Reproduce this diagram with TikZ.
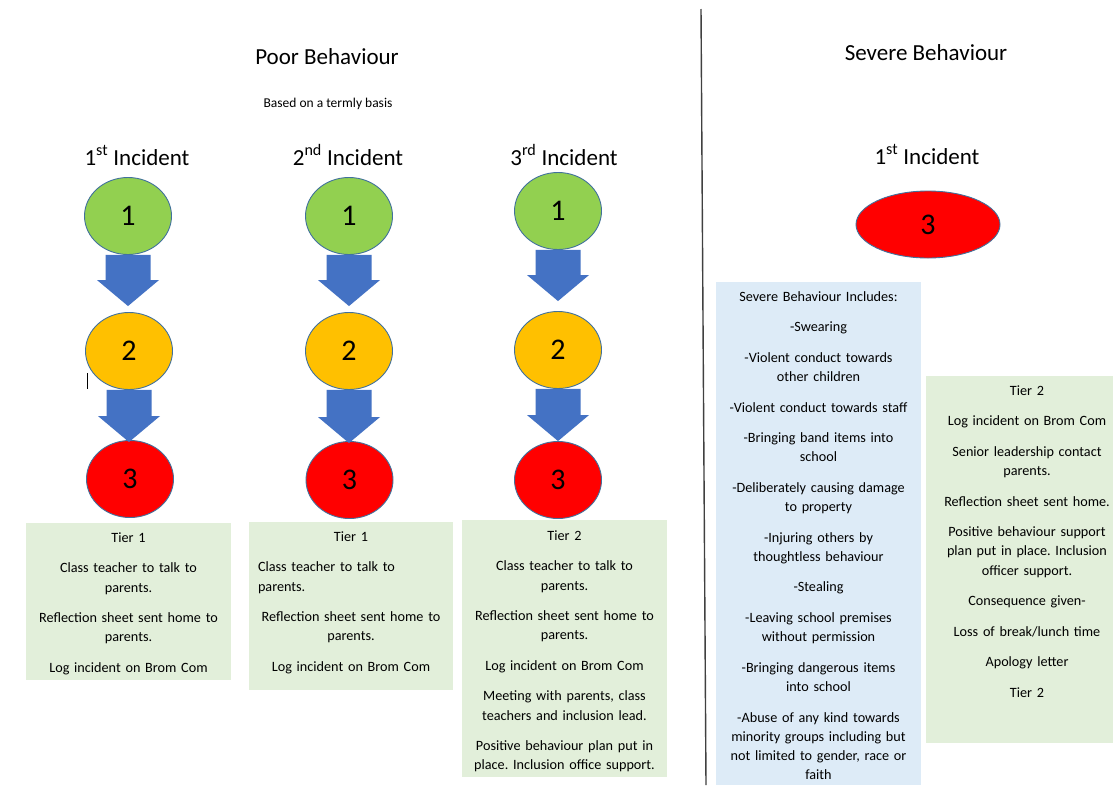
\documentclass[tikz,border=0pt]{standalone}
\usepackage{fontspec}
\setmainfont{Carlito}
\frenchspacing
\usetikzlibrary{shapes.geometric,calc}
\definecolor{cgreen}{HTML}{92D050}
\definecolor{corange}{HTML}{FFC000}
\definecolor{cred}{HTML}{FF0000}
\definecolor{cborder}{HTML}{41719C}
\definecolor{ablue}{HTML}{4472C4}
\definecolor{boxgreen}{HTML}{E2EFDA}
\definecolor{boxblue}{HTML}{DDEBF7}
\definecolor{vline}{HTML}{404040}
\newcommand\blkarrow[3]{%
  \fill[ablue] let \p1=(#1.south), \p2=(#2.north) in
    (\x1-22.5pt,\y1) -- (\x1+22.5pt,\y1) -- (\x1+22.5pt,\y2+#3pt+26pt)
    -- (\x1+31pt,\y2+#3pt+26pt) -- (\x1,\y2+#3pt) -- (\x1-31pt,\y2+#3pt+26pt)
    -- (\x1-22.5pt,\y2+#3pt+26pt) -- cycle;}
\newcommand\pgap{\\[11.2pt]}
\begin{document}
\begin{tikzpicture}[x=1pt,y=-1pt,
  circ/.style={ellipse, draw=cborder, line width=0.9pt, minimum width=87, minimum height=77, inner sep=0pt, font=\fontsize{30}{30}\selectfont},
  c1/.style={circ, fill=cgreen},
  c2/.style={circ, fill=corange},
  c3/.style={circ, fill=cred},
  boxg/.style={rectangle, fill=boxgreen, draw=none, inner sep=0pt, anchor=north west},
  boxb/.style={rectangle, fill=boxblue, draw=none, inner sep=0pt, anchor=north west},
  btext/.style={anchor=north, inner sep=0pt, align=center, font=\fontsize{14.2}{19.3}\selectfont},
  title/.style={inner sep=0pt, font=\fontsize{23}{23}\selectfont},
  inc/.style={inner sep=0pt, anchor=base, font=\fontsize{23}{23}\selectfont},
]
\useasboundingbox (0,0) rectangle (1113,785);
\fill[white] (0,0) rectangle (1113,785);

% headings
\node[title] (poor) at (327,57) {Poor Behaviour};
\node[inner sep=0pt, anchor=base, font=\fontsize{13.5}{13.5}\selectfont] (basis) at (328,107) {Based on a termly basis};
\node[title, anchor=base] (severe) at (926,60) {Severe Behaviour};

\node[inc] (i1) at (137,165) {1\textsuperscript{st} Incident};
\node[inc] (i2) at (348,165) {2\textsuperscript{nd} Incident};
\node[inc] (i3) at (564,165) {3\textsuperscript{rd} Incident};
\node[inc] (i4) at (927,164) {1\textsuperscript{st} Incident};

% divider
\coordinate (vtop) at (701,9);
\coordinate (vbot) at (706,785);
\draw[vline, line width=1.4pt] (vtop) -- (vbot);

% column 1
\node[c1] (a1) at (128,216) {1};
\node[c2] (a2) at (129,351) {2};
\node[c3] (a3) at (130,479) {3};
\blkarrow{a1}{a2}{6}
\blkarrow{a2}{a3}{-2}

% column 2
\node[c1] (b1) at (349,216) {1};
\node[c2] (b2) at (349,351) {2};
\node[c3] (b3) at (349.5,480) {3};
\blkarrow{b1}{b2}{6}
\blkarrow{b2}{b3}{-2}

% column 3
\node[c1] (d1) at (558,211) {1};
\node[c2] (d2) at (558,350) {2};
\node[c3] (d3) at (558,480) {3};
\blkarrow{d1}{d2}{10}
\blkarrow{d2}{d3}{0}

% severe ellipse
\node[circ, fill=cred, minimum width=144, minimum height=67] (s3) at (928,224.5) {3};

% cursor mark
\coordinate (cur1) at (87.5,373);
\coordinate (cur2) at (87.5,389);
\draw[black, line width=0.8pt] (cur1) -- (cur2);

% boxes
\node[boxg, minimum width=205, minimum height=157] (box1) at (26,523) {};
\node[btext, text width=204] (t1) at (128.5,532) {\rule{0pt}{10pt}Tier 1\pgap
Class teacher to talk to\\ parents.\pgap
Reflection sheet sent home to\\ parents.\pgap
Log incident on Brom Com};

\node[boxg, minimum width=204, minimum height=168] (box2) at (249,522) {};
\node[btext, text width=190] (t2) at (351,531) {\rule{0pt}{10pt}Tier 1\pgap
\makebox[186pt][l]{Class teacher to talk to}\\ \makebox[186pt][l]{parents.}\pgap
Reflection sheet sent home to\\ parents.\pgap
Log incident on Brom Com};

\node[boxg, minimum width=205, minimum height=257] (box3) at (462,520) {};
\node[btext, text width=204] (t3) at (564.5,530) {\rule{0pt}{10pt}Tier 2\pgap
Class teacher to talk to\\ parents.\pgap
Reflection sheet sent home to\\ parents.\pgap
Log incident on Brom Com\pgap
Meeting with parents, class\\ teachers and inclusion lead.\pgap
Positive behaviour plan put in\\ place. Inclusion office support.};

\node[boxb, minimum width=205, minimum height=503] (box4) at (716,282) {};
\node[btext, text width=204] (t4) at (818.5,291) {\rule{0pt}{10pt}Severe Behaviour Includes:\pgap
-Swearing\pgap
-Violent conduct towards\\ other children\pgap
-Violent conduct towards staff\pgap
-Bringing band items into\\ school\pgap
-Deliberately causing damage\\ to property\pgap
-Injuring others by\\ thoughtless behaviour\pgap
-Stealing\pgap
-Leaving school premises\\ without permission\pgap
-Bringing dangerous items\\ into school\pgap
-Abuse of any kind towards\\ minority groups including but\\ not limited to gender, race or\\ faith};

\node[boxg, minimum width=187, minimum height=367] (box5) at (926,376) {};
\node[btext, text width=186] (t5) at (1027,385) {\rule{0pt}{10pt}Tier 2\pgap
Log incident on Brom Com\pgap
Senior leadership contact\\ parents.\pgap
Reflection sheet sent home.\pgap
Positive behaviour support\\ plan put in place. Inclusion\\ officer support.\pgap
Consequence given-\pgap
Loss of break/lunch time\pgap
Apology letter\pgap
Tier 2};
\end{tikzpicture}
\end{document}
